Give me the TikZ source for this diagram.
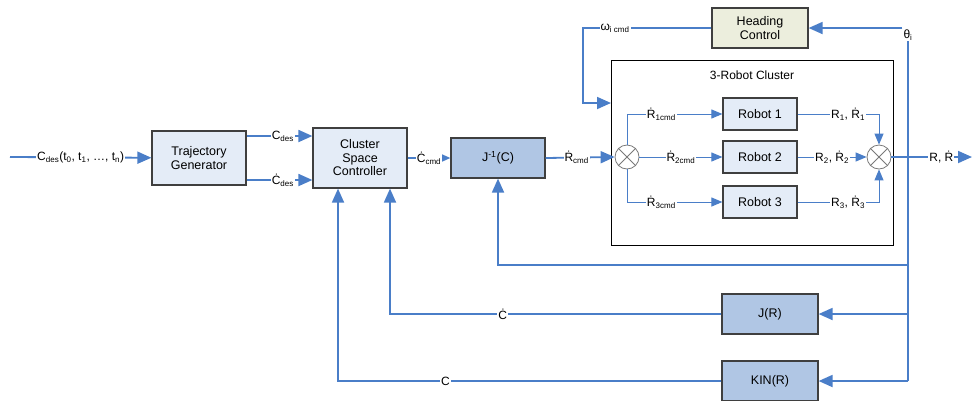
\documentclass[tikz,border=0pt]{standalone}
\usepackage{fontspec}
\setmainfont{Liberation Sans}
\usetikzlibrary{arrows.meta,positioning}
\definecolor{SignalBlue}{HTML}{4A7EC8}
\definecolor{BlockLight}{HTML}{E4ECF7}
\definecolor{BlockDark}{HTML}{B0C6E4}
\definecolor{BlockOlive}{HTML}{ECEEDD}
\definecolor{BlockEdge}{HTML}{3F3F3F}
\tikzset{
  sigarrow/.style={-{Triangle[length=14pt,width=12pt]},line width=1.8pt,draw=SignalBlue},
  sigline/.style={line width=1.8pt,draw=SignalBlue},
  innerarrow/.style={-{Triangle[length=11pt,width=9pt]},line width=1pt,draw=SignalBlue},
  block/.style={draw=BlockEdge,line width=1.2pt,align=center,font=\fontsize{12.5}{13.5}\selectfont},
  lightblock/.style={block,fill=BlockLight},
  darkblock/.style={block,fill=BlockDark},
  headblock/.style={block,fill=BlockOlive},
  summer/.style={circle,draw=BlockEdge!70,line width=0.8pt,fill=white,minimum size=24pt,inner sep=0pt},
  sig/.style={fill=white,inner sep=1pt,font=\fontsize{12}{13}\selectfont}
}
\newcommand{\sumcross}[1]{%
  \draw[BlockEdge!70,line width=0.8pt] (#1.north west) -- (#1.south east) (#1.north east) -- (#1.south west);}

\begin{document}
\begin{tikzpicture}[x=1pt,y=-1pt]
  \useasboundingbox (0,0) rectangle (976,400);
  \clip (0,0) rectangle (976,400);
  % main blocks
  \node[lightblock,minimum width=94pt,minimum height=54pt] (traj) at (199,158) {Trajectory\\Generator};
  \node[lightblock,minimum width=94pt,minimum height=60pt] (csc) at (360,158) {Cluster\\Space\\Controller};
  \node[darkblock,minimum width=94pt,minimum height=40pt] (jinv) at (498,158) {J\textsuperscript{-1}(C)};
  \node[headblock,minimum width=96pt,minimum height=40pt] (hdg) at (760,28) {Heading\\Control};
  \node[darkblock,minimum width=96pt,minimum height=40pt] (jr) at (770,314) {J(R)};
  \node[darkblock,minimum width=96pt,minimum height=40pt] (kin) at (770,381) {KIN(R)};

  % cluster
  \node[draw=black,line width=0.9pt,minimum width=282pt,minimum height=185pt] (clus) at (752,152.5) {};
  \node[font=\fontsize{12}{13}\selectfont] (clustitle) at (752,75) {3-Robot Cluster};
  \node[lightblock,minimum width=74pt,minimum height=32pt] (rob1) at (760,114) {Robot 1};
  \node[lightblock,minimum width=74pt,minimum height=32pt] (rob2) at (760,157) {Robot 2};
  \node[lightblock,minimum width=74pt,minimum height=32pt] (rob3) at (760,202) {Robot 3};
  \node[summer] (sumL) at (627,157) {};
  \node[summer] (sumR) at (879,157) {};
  \sumcross{sumL}
  \sumcross{sumR}

  \node[font=\fontsize{12}{13}\selectfont,inner sep=1pt] (theta) at (908,35) {θ\textsubscript{i}};
  \coordinate (in) at (10,157);
  \coordinate (out) at (972,157);
  \coordinate (wcorner) at (583,28);
  \coordinate (win) at (611,103);
  \coordinate (jfb) at (908,265);

  % forward path
  \draw[sigarrow] (in) -- node[sig] {C\textsubscript{des}(t\textsubscript{0}, t\textsubscript{1}, …, t\textsubscript{n})} (traj);
  \draw[sigarrow] ([yshift=22pt]traj.east) -- node[sig,pos=0.55] {C\textsubscript{des}} ([yshift=22pt]csc.west);
  \draw[sigarrow] ([yshift=-22pt]traj.east) -- node[sig,pos=0.55] {\.{C}\textsubscript{des}} ([yshift=-22pt]csc.west);
  \draw[sigarrow] (csc.east) -- node[sig] {\.{C}\textsubscript{cmd}} (jinv.west);
  \draw[sigarrow] (jinv.east) -- node[sig,pos=0.45] {\.{R}\textsubscript{cmd}} (sumL.west);

  % inside cluster
  \draw[innerarrow] (sumL.north) |- node[sig,pos=0.68] {\.{R}\textsubscript{1cmd}} (rob1.west);
  \draw[innerarrow] (sumL.east) -- node[sig] {\.{R}\textsubscript{2cmd}} (rob2.west);
  \draw[innerarrow] (sumL.south) |- node[sig,pos=0.68] {\.{R}\textsubscript{3cmd}} (rob3.west);
  \draw[innerarrow] (rob1.east) -| node[sig,pos=0.31] {R\textsubscript{1}, \.{R}\textsubscript{1}} (sumR.north);
  \draw[innerarrow] (rob2.east) -- node[sig,pos=0.5] {R\textsubscript{2}, \.{R}\textsubscript{2}} (sumR.west);
  \draw[innerarrow] (rob3.east) -| node[sig,pos=0.31] {R\textsubscript{3}, \.{R}\textsubscript{3}} (sumR.south);

  % output and feedback
  \draw[sigline] (theta.south) -- (theta.south |- kin.east);
  \draw[sigarrow] (sumR.east) -- node[sig,pos=0.62] {R, \.{R}} (out);
  \draw[sigarrow] (theta.west |- hdg.east) -- (hdg.east);
  \draw[sigarrow] (hdg.west) -- node[sig,pos=0.75] {ω\textsubscript{i cmd}} (wcorner) |- (win);
  \draw[sigarrow] (jfb) -| (jinv.south);
  \draw[sigarrow] (theta.south |- jr.east) -- (jr.east);
  \draw[sigarrow] (theta.south |- kin.east) -- (kin.east);
  \draw[sigarrow] (jr.west) -| node[sig,pos=0.33] {\.{C}} ([xshift=30pt]csc.south);
  \draw[sigarrow] (kin.west) -| node[sig,pos=0.36] {C} ([xshift=-22pt]csc.south);
\end{tikzpicture}
\end{document}
